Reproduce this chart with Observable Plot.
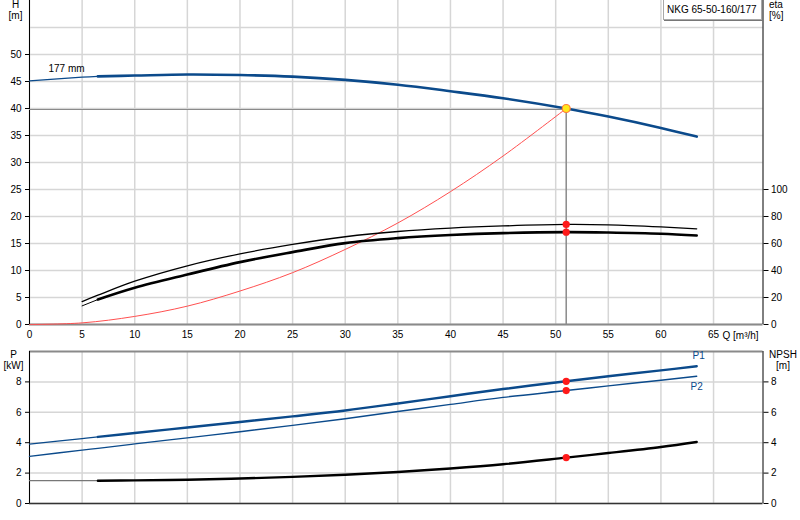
<!DOCTYPE html>
<html><head><meta charset="utf-8">
<script src="https://cdn.jsdelivr.net/npm/d3@7"></script>
<script src="https://cdn.jsdelivr.net/npm/@observablehq/plot@0.6"></script>
<style>
body{margin:0;background:#fff;}
#wrap{position:relative;width:800px;height:520px;font-family:"Liberation Sans",Arial,sans-serif;}
#wrap svg{display:block;}
.box{position:absolute;left:663px;top:-1px;width:94px;height:19px;border:1px solid #a8a8a8;box-shadow:1px 1px 0 #777;background:#fff;font-size:10px;line-height:19px;padding-left:3px;color:#000;white-space:nowrap;}
</style>
</head><body>
<div id="wrap"><div class="box" id="title"></div></div>
<script>
// ---- ticks / labels ----
const qTicks = [0,5,10,15,20,25,30,35,40,45,50,55,60,65];
const hTicks = [0,5,10,15,20,25,30,35,40,45,50];
const hGrid = [0,5,10,15,20,25,30,35,40,45,50,55];
const etaTicks = [0,20,40,60,80,100];
const pTicks = [0,2,4,6,8];
const titleText = "NKG 65-50-160/177";
const curveLabel = "177 mm";
const qLabel = "Q [m³/h]";

// ---- head curve ----
const Q_H = [0,5,6.5,10,15,20,25,30,35,40,45,51,55,60,63.4];
const H   = [45.1,45.8,45.95,46.1,46.3,46.2,45.9,45.3,44.4,43.2,41.9,40.0,38.5,36.4,34.8];
// ---- efficiency curves ----
const Q_eta = [5,6.5,10,15,20,25,30,35,40,45,51,55,60,63.4];
const etaUpper = [17.0,21.7,32.1,43.5,52.3,59.3,65.0,68.9,71.4,73.0,74.1,73.8,72.3,70.9];
const etaLower = [13.8,18.5,27.2,37.0,46.2,53.6,60.3,64.0,66.3,67.7,68.4,68.1,67.2,65.9];
// ---- system curve ----
const Q_sys = [0,5,10,15,20,25,30,35,40,45,51];
const H_sys = [0,0.3,1.5,3.4,6.2,9.6,13.9,18.8,24.6,31.2,40.0];
// ---- power / NPSH ----
const Q_P = [0,5,6.5,10,15,20,25,30,35,40,45,51,55,60,63.4];
const P1  = [3.91,4.27,4.38,4.64,5.0,5.36,5.73,6.12,6.58,7.06,7.53,8.04,8.37,8.76,9.03];
const P2  = [3.1,3.51,3.63,3.92,4.32,4.72,5.14,5.58,6.05,6.52,6.98,7.43,7.74,8.11,8.37];
const NPSH = [1.5,1.5,1.5,1.52,1.56,1.64,1.75,1.89,2.07,2.3,2.58,3.02,3.32,3.72,4.05];
const thickFrom = 6.5;
// ---- duty point ----
const opQ = 51, opH = 40.0, opEtaU = 74.1, opEtaL = 68.4, opP1 = 8.04, opP2 = 7.43, opNPSH = 3.02;

const blue = "#0b4a8b";
const font = '"Liberation Sans", Arial, sans-serif';
const xDom = [0, 69.7];
const etaScale = 4; // eta [%] per H [m] on shared vertical

const hData = Q_H.map((q,i)=>({q, v:H[i]}));
const euData = Q_eta.map((q,i)=>({q, v:etaUpper[i]/etaScale}));
const elData = Q_eta.map((q,i)=>({q, v:etaLower[i]/etaScale}));
const sysData = Q_sys.map((q,i)=>({q, v:H_sys[i]}));
const p1Data = Q_P.map((q,i)=>({q, v:P1[i]}));
const p2Data = Q_P.map((q,i)=>({q, v:P2[i]}));
const npData = Q_P.map((q,i)=>({q, v:NPSH[i]}));
const thick = a => a.filter(d => d.q >= thickFrom);
const thin = a => a.filter(d => d.q <= thickFrom);

document.getElementById("title").textContent = titleText;
const gridStyle = {stroke:"#d6d6d6", strokeOpacity:1, strokeWidth:1.5};
const curve = "catmull-rom";

const topChart = Plot.plot({
  width: 800, height: 340,
  marginLeft: 29, marginRight: 37.5, marginTop: 0, marginBottom: 16,
  x: {domain: xDom}, y: {domain: [0, 60]},
  style: {fontFamily: font, fontSize: "10px", color: "#000", background: "transparent", overflow: "visible"},
  marks: [
    Plot.gridX(qTicks, gridStyle),
    Plot.gridY(hGrid, gridStyle),
    Plot.ruleY([0], {stroke:"#8a8a8a", strokeWidth:2}),
    Plot.ruleX([0], {stroke:"#000"}),
    Plot.ruleX([xDom[1]], {stroke:"#000"}),
    Plot.axisY(hTicks, {anchor:"left", tickSize:4, tickPadding:4, label:null}),
    Plot.axisY(etaTicks.map(e=>e/etaScale), {anchor:"right", tickSize:5, tickPadding:3, tickFormat: d => d*etaScale, label:null}),
    Plot.axisX(qTicks, {anchor:"bottom", tickSize:0, tickPadding:6, label:null}),
    Plot.text([qLabel], {x: 65, y: 0, dx: 9, dy: 11, textAnchor:"start", fontSize:10}),
    Plot.text(["H\n[m]"], {frameAnchor:"top-left", dx:-14, dy:0, textAnchor:"middle", lineAnchor:"top", fontSize:10, lineHeight:1.1}),
    Plot.text(["eta\n[%]"], {frameAnchor:"top-right", dx:6, dy:0, textAnchor:"start", lineAnchor:"top", fontSize:10, lineHeight:1.1}),
    // duty point guides
    Plot.ruleY([opH], {x1:0, x2:opQ, stroke:"#8a8a8a", strokeWidth:1, dy:1}),
    Plot.ruleX([opQ], {y1:0, y2:opH, stroke:"#8a8a8a", strokeWidth:1.5}),
    // system curve
    Plot.line(sysData, {x:"q", y:"v", stroke:"#ff5050", strokeWidth:1, curve}),
    // efficiency
    Plot.line(euData, {x:"q", y:"v", stroke:"#000", strokeWidth:1.3, curve}),
    Plot.line(thin(elData), {x:"q", y:"v", stroke:"#000", strokeWidth:1, curve}),
    Plot.line(thick(elData), {x:"q", y:"v", stroke:"#000", strokeWidth:2.6, curve}),
    // head
    Plot.line(thin(hData), {x:"q", y:"v", stroke:blue, strokeWidth:1.2, curve}),
    Plot.line(thick(hData), {x:"q", y:"v", stroke:blue, strokeWidth:2.6, curve}),
    Plot.text([hData[0]], {x:"q", y:"v", text: () => curveLabel, dx:19, dy:-12, textAnchor:"start", fontSize:10}),
    // points
    Plot.dot([{q:opQ, v:opEtaU/etaScale},{q:opQ, v:opEtaL/etaScale}], {x:"q", y:"v", r:3.6, fill:"#ff1a1a", stroke:"none"}),
    Plot.dot([{q:opQ, v:opH}], {x:"q", y:"v", r:4, fill:"#ffe81a", stroke:"#ff7a3a", strokeWidth:1.2})
  ]
});

const bottomChart = Plot.plot({
  width: 800, height: 180,
  marginLeft: 29, marginRight: 37.5, marginTop: 11, marginBottom: 17,
  x: {domain: xDom, axis: null}, y: {domain: [0, 10]},
  style: {fontFamily: font, fontSize: "10px", color: "#000", background: "transparent", overflow: "visible"},
  marks: [
    Plot.gridX(qTicks, gridStyle),
    Plot.gridY(pTicks, gridStyle),
    Plot.ruleY([10], {stroke:"#8a8a8a", strokeWidth:2}),
    Plot.ruleY([0], {stroke:"#333", strokeWidth:1.5}),
    Plot.ruleX([0], {stroke:"#000"}),
    Plot.ruleX([xDom[1]], {stroke:"#000"}),
    Plot.axisY(pTicks, {anchor:"left", tickSize:4, tickPadding:4, label:null}),
    Plot.axisY(pTicks, {anchor:"right", tickSize:5, tickPadding:3, label:null}),
    Plot.text(["P\n[kW]"], {frameAnchor:"top-left", dx:-16, dy:-1, textAnchor:"middle", lineAnchor:"top", fontSize:10, lineHeight:1.1}),
    Plot.text(["NPSH\n[m]"], {frameAnchor:"top-right", dx:20, dy:-1, textAnchor:"middle", lineAnchor:"top", fontSize:10, lineHeight:1.1}),
    // power lines
    Plot.line(p2Data, {x:"q", y:"v", stroke:blue, strokeWidth:1.4, curve}),
    Plot.line(thin(p1Data), {x:"q", y:"v", stroke:blue, strokeWidth:1.2, curve}),
    Plot.line(thick(p1Data), {x:"q", y:"v", stroke:blue, strokeWidth:2.4, curve}),
    // NPSH
    Plot.line(thin(npData), {x:"q", y:"v", stroke:"#777", strokeWidth:1.2}),
    Plot.line(thick(npData), {x:"q", y:"v", stroke:"#000", strokeWidth:2.4, curve}),
    Plot.text([p1Data[p1Data.length-1]], {x:"q", y:"v", text:()=>"P1", dx:2, dy:-10, fill:blue, fontSize:10, textAnchor:"middle"}),
    Plot.text([p2Data[p2Data.length-1]], {x:"q", y:"v", text:()=>"P2", dx:0, dy:11, fill:blue, fontSize:10, textAnchor:"middle"}),
    Plot.dot([{q:opQ,v:opP1},{q:opQ,v:opP2},{q:opQ,v:opNPSH}], {x:"q", y:"v", r:3.6, fill:"#ff1a1a", stroke:"none"})
  ]
});

const wrap = document.getElementById("wrap");
wrap.insertBefore(bottomChart, wrap.firstChild);
wrap.insertBefore(topChart, wrap.firstChild);
</script>
</body></html>
